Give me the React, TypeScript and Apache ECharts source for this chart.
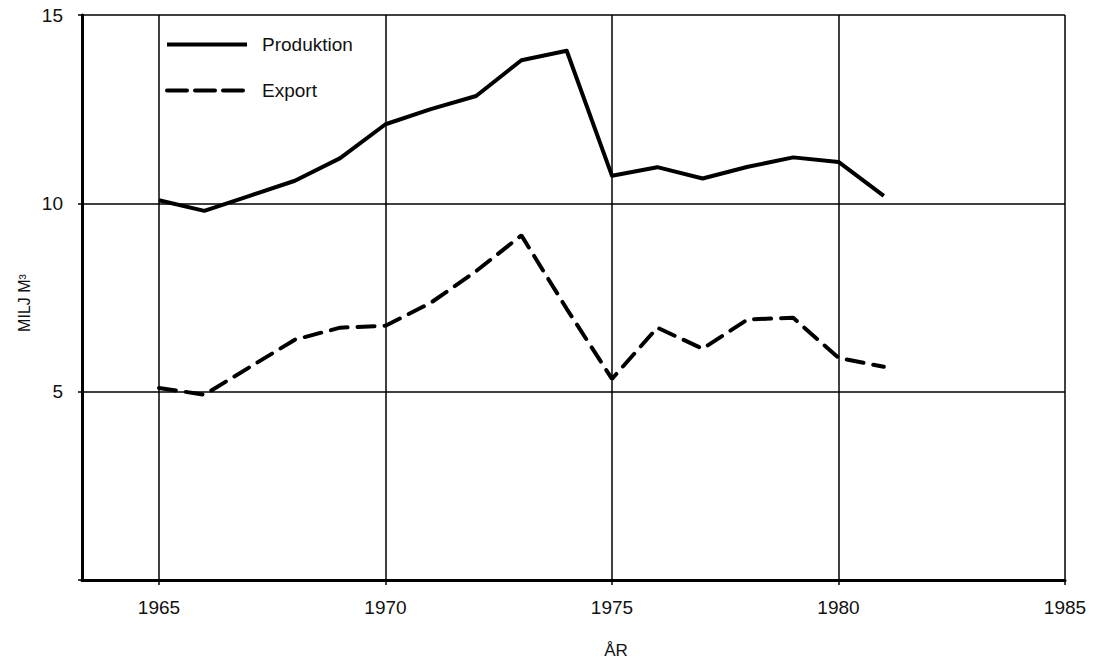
import React, { useEffect, useRef } from "react";
import * as echarts from "echarts";

const years = [1965, 1966, 1967, 1968, 1969, 1970, 1971, 1972, 1973, 1974, 1975, 1976, 1977, 1978, 1979, 1980, 1981];
const produktion = [10.08, 9.8, 10.2, 10.6, 11.2, 12.1, 12.5, 12.85, 13.8, 14.05, 10.73, 10.96, 10.66, 10.97, 11.22, 11.1, 10.2];
const exportValues = [5.1, 4.92, 5.65, 6.38, 6.7, 6.75, 7.36, 8.2, 9.15, 7.2, 5.34, 6.7, 6.14, 6.92, 6.96, 5.9, 5.66];
const seriesNames = ["Produktion", "Export"];
const xTitle = "ÅR";
const yTitle = "MILJ M³";

const FONT = "Liberation Sans";

export default function App() {
  const ref = useRef<HTMLDivElement>(null);
  useEffect(() => {
    document.body.style.margin = "0";
    const chart = echarts.init(ref.current!, null, { renderer: "svg" });
    chart.setOption({
      animation: false,
      backgroundColor: "#ffffff",
      grid: { left: 82, right: 32, top: 15, bottom: 83, containLabel: false },
      legend: {
        orient: "vertical",
        left: 165,
        top: 35,
        padding: 0,
        itemWidth: 80,
        itemHeight: 16,
        itemGap: 27,
        data: [
          { name: seriesNames[0], lineStyle: { width: 4, color: "#000", type: "solid" } },
          { name: seriesNames[1], lineStyle: { width: 4, color: "#000", type: [20, 8] } },
        ],
        itemStyle: { opacity: 0 },
        textStyle: { fontFamily: FONT, fontSize: 19, color: "#111", padding: [0, 0, 0, 10] },
      },
      xAxis: {
        type: "value",
        min: 1963.3,
        max: 1985,
        splitNumber: 5,
        axisLine: { show: true, onZero: false, lineStyle: { color: "#000", width: 3 } },
        axisTick: { show: true, inside: false, length: 5, lineStyle: { color: "#000", width: 1.5 } },
        axisLabel: {
          showMinLabel: false,
          margin: 18,
          fontFamily: FONT,
          fontSize: 19,
          color: "#111",
          formatter: (v: number) => String(Math.round(v)),
        },
        splitLine: { show: true, lineStyle: { color: "#000", width: 1.5 } },
      },
      yAxis: {
        type: "value",
        min: 0,
        max: 15,
        interval: 5,
        axisLine: { show: true, lineStyle: { color: "#000", width: 3 } },
        axisTick: { show: true, inside: false, length: 4, lineStyle: { color: "#000", width: 1.5 } },
        axisLabel: {
          margin: 19,
          fontFamily: FONT,
          fontSize: 19,
          color: "#111",
          formatter: (v: number) => (v === 0 ? "" : String(v)),
        },
        splitLine: { show: true, lineStyle: { color: "#000", width: 1.5 } },
      },
      series: [
        {
          name: seriesNames[0],
          type: "line",
          symbol: "none",
          data: years.map((y, i) => [y, produktion[i]]),
          lineStyle: { color: "#000", width: 4, type: "solid", join: "round" },
          itemStyle: { color: "#000" },
          z: 5,
        },
        {
          name: seriesNames[1],
          type: "line",
          symbol: "none",
          data: years.map((y, i) => [y, exportValues[i]]),
          lineStyle: { color: "#000", width: 4, type: [17, 10], cap: "round" },
          itemStyle: { color: "#000" },
          z: 5,
        },
      ],
      graphic: [
        {
          type: "text",
          x: 616,
          y: 650,
          style: {
            text: xTitle,
            fontFamily: FONT,
            fontSize: 17,
            fill: "#111",
            align: "center",
            verticalAlign: "middle",
          },
        },
        {
          type: "text",
          x: 24,
          y: 303,
          rotation: Math.PI / 2,
          style: {
            text: yTitle,
            fontFamily: FONT,
            fontSize: 16,
            fill: "#111",
            align: "center",
            verticalAlign: "middle",
          },
        },
      ],
    });
    return () => chart.dispose();
  }, []);
  return <div ref={ref} style={{ width: 1097, height: 663 }} />;
}
